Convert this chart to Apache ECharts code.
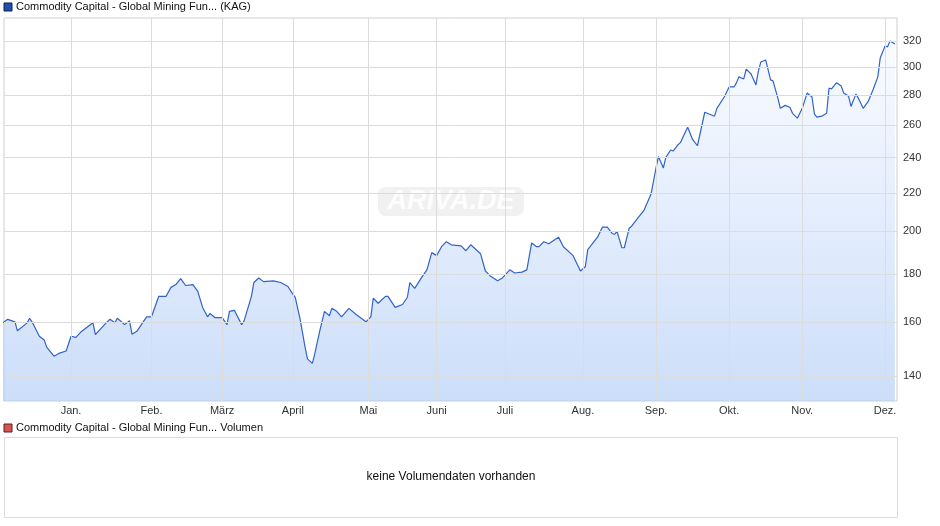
<!DOCTYPE html>
<html>
<head>
<meta charset="utf-8">
<script src="https://cdn.jsdelivr.net/npm/echarts@6/dist/echarts.min.js"></script>
<style>
  html, body { margin: 0; padding: 0; background: #fff; }
  #chart { width: 940px; height: 526px; }
</style>
</head>
<body>
<div id="chart"></div>
<script>
const dates = [
  '2024-12-04','2024-12-06','2024-12-09','2024-12-10','2024-12-14','2024-12-15','2024-12-16','2024-12-19',
  '2024-12-21','2024-12-22','2024-12-25','2024-12-27','2024-12-30','2025-01-01','2025-01-03','2025-01-05',
  '2025-01-10','2025-01-11','2025-01-15','2025-01-17','2025-01-19','2025-01-20','2025-01-23','2025-01-25',
  '2025-01-26','2025-01-28','2025-02-01','2025-02-03','2025-02-06','2025-02-09','2025-02-11','2025-02-13',
  '2025-02-15','2025-02-17','2025-02-20','2025-02-22','2025-02-24','2025-02-26','2025-02-27','2025-03-01',
  '2025-03-04','2025-03-06','2025-03-07','2025-03-09','2025-03-12','2025-03-13','2025-03-16','2025-03-17',
  '2025-03-19','2025-03-21','2025-03-25','2025-03-28','2025-03-31','2025-04-02','2025-04-03','2025-04-05',
  '2025-04-07','2025-04-08','2025-04-10','2025-04-11','2025-04-13','2025-04-15','2025-04-17','2025-04-18',
  '2025-04-20','2025-04-22','2025-04-25','2025-04-28','2025-05-02','2025-05-04','2025-05-05','2025-05-07',
  '2025-05-10','2025-05-11','2025-05-14','2025-05-17','2025-05-19','2025-05-20','2025-05-22','2025-05-25',
  '2025-05-27','2025-05-29','2025-05-31','2025-06-02','2025-06-04','2025-06-06','2025-06-10','2025-06-12',
  '2025-06-14','2025-06-18','2025-06-20','2025-06-22','2025-06-25','2025-06-27','2025-06-30','2025-07-02',
  '2025-07-05','2025-07-07','2025-07-09','2025-07-11','2025-07-12','2025-07-14','2025-07-16','2025-07-20',
  '2025-07-22','2025-07-26','2025-07-29','2025-07-31','2025-08-01','2025-08-05','2025-08-07','2025-08-09',
  '2025-08-11','2025-08-12','2025-08-13','2025-08-15','2025-08-16','2025-08-18','2025-08-19','2025-08-22',
  '2025-08-24','2025-08-27','2025-08-29','2025-08-30','2025-09-01','2025-09-02','2025-09-04','2025-09-05',
  '2025-09-07','2025-09-08','2025-09-10','2025-09-11','2025-09-13','2025-09-15','2025-09-18','2025-09-22',
  '2025-09-23','2025-09-26','2025-09-28','2025-09-30','2025-10-01','2025-10-02','2025-10-04','2025-10-05',
  '2025-10-07','2025-10-09','2025-10-10','2025-10-11','2025-10-13','2025-10-15','2025-10-16','2025-10-18',
  '2025-10-19','2025-10-21','2025-10-23','2025-10-24','2025-10-26','2025-10-28','2025-10-30','2025-11-01',
  '2025-11-02','2025-11-03','2025-11-05','2025-11-07','2025-11-08','2025-11-09','2025-11-11','2025-11-13',
  '2025-11-14','2025-11-16','2025-11-17','2025-11-19','2025-11-20','2025-11-22','2025-11-24','2025-11-26',
  '2025-11-28','2025-11-29','2025-12-01','2025-12-02','2025-12-03','2025-12-05'
];
const prices = [
  159.6,161,160,156.5,159.6,161.4,160,154.4,
  153,150.3,147,148,148.9,154.4,154,156,
  159.6,155,159.2,161,159.6,161.4,158.9,160.4,
  155.2,156.3,162,162,170.4,170.4,174.2,175.4,
  178,175,175.4,172.5,165.8,162,163.3,161.7,
  161.7,158.9,164.2,164.6,158.9,160.4,170.4,176.3,
  178.3,176.7,177,176.3,174.6,171.3,170,161,
  150.4,146,144.4,147.8,156.3,164.2,162.4,165.4,
  164.2,162,165.4,162.9,160,162,169.6,167.5,
  170.4,170.4,165.8,167,170,176.3,173.8,178.8,
  181.9,189.8,188.4,192.6,195,193.5,193,190.7,
  193.5,189.3,181.4,179.2,177.1,178.3,181.9,180.5,
  180.9,181.9,194.4,192.6,192.6,195,194,197.2,
  192.6,188.4,181.4,183.3,191.2,197.2,202.1,202.1,
  199,198.6,200,192.1,192.1,201.6,202.6,207.4,
  210.5,219.5,233.9,240.6,233.9,240,244.5,243.9,
  247.7,249,255.5,258.7,251,247.1,268.4,265.8,
  271,278.7,285.7,285.7,288.6,292.9,291.4,298.6,
  295,287.1,297.1,303.8,305.4,290.7,290,277.9,
  271,273,271.6,267.7,264.5,271,281.4,278.7,
  267.1,265.2,265.8,267.7,285,284.3,288.6,286.4,
  281.4,279.3,272.3,280.7,277.9,271,275.5,283.6,
  292.9,306.9,316.2,315.4,320,317.7
];
const yTicks = [140, 160, 180, 200, 220, 240, 260, 280, 300, 320];
const monthNames = ['Jan.','Feb.','März','April','Mai','Juni','Juli','Aug.','Sep.','Okt.','Nov.','Dez.'];
const monthTicks = ['2025-01-01','2025-02-03','2025-03-04','2025-04-02','2025-05-03','2025-05-31',
  '2025-06-28','2025-07-30','2025-08-29','2025-09-28','2025-10-28','2025-12-01'];

const gridLine = { color: '#dcdcdc', width: 1, type: 'solid' };
const lineData = [];
yTicks.forEach(v => lineData.push({ yAxis: v, name: String(v),
  label: { position: 'end', distance: 6, formatter: '{b}', color: '#333', fontSize: 11, fontFamily: 'Liberation Sans' } }));
monthTicks.forEach((d, i) => lineData.push({ xAxis: d, name: monthNames[i],
  label: { position: 'start', distance: 4, formatter: '{b}', color: '#333', fontSize: 11, fontFamily: 'Liberation Sans' } }));

const chart = echarts.init(document.getElementById('chart'));
chart.setOption({
  animation: false,
  grid: { left: 4, right: 43, top: 18, height: 383, show: true, borderColor: '#cfcfcf', borderWidth: 1 },
  xAxis: {
    type: 'time', min: '2024-12-04T12:00', max: '2025-12-05T21:00',
    axisLine: { show: false }, axisTick: { show: false }, axisLabel: { show: false }, splitLine: { show: false }
  },
  yAxis: {
    type: 'log', min: 131.6, max: 338.7,
    axisLine: { show: false }, axisTick: { show: false }, axisLabel: { show: false }, splitLine: { show: false }
  },
  series: [{
    type: 'line',
    data: dates.map((d, i) => [d, prices[i]]),
    showSymbol: false,
    lineStyle: { color: '#3063c8', width: 1.2 },
    areaStyle: {
      origin: 'start',
      color: new echarts.graphic.LinearGradient(0, 0, 0, 1, [
        { offset: 0, color: '#f6f9ff' },
        { offset: 1, color: '#b6cff6' }
      ])
    },
    markLine: { silent: true, symbol: 'none', lineStyle: gridLine, data: lineData }
  }],
  graphic: [
    { type: 'rect', shape: { x: 4, y: 3, width: 8, height: 8 }, style: { fill: '#1f4fb5', stroke: '#123' } },
    { type: 'text', left: 16, top: 1, style: { text: 'Commodity Capital - Global Mining Fun... (KAG)', fill: '#111', font: '11px "Liberation Sans"' } },
    { type: 'group', left: 378, top: 187, children: [
      { type: 'rect', shape: { x: 0, y: 0, width: 146, height: 29, r: 8 }, style: { fill: 'rgba(225,225,225,0.45)' } },
      { type: 'text', style: { x: 73, y: 15, text: 'ARIVA.DE', align: 'center', verticalAlign: 'middle',
        fill: 'rgba(255,255,255,0.85)', font: 'italic bold 27px "Liberation Sans"' } }
    ] },
    { type: 'rect', shape: { x: 4, y: 424, width: 8, height: 8 }, style: { fill: '#d9534f', stroke: '#522' } },
    { type: 'text', left: 16, top: 422, style: { text: 'Commodity Capital - Global Mining Fun... Volumen', fill: '#111', font: '11px "Liberation Sans"' } },
    { type: 'rect', shape: { x: 4.5, y: 437.5, width: 893, height: 80 }, style: { fill: '#fff', stroke: '#dcdcdc' } },
    { type: 'text', style: { x: 451, y: 477, text: 'keine Volumendaten vorhanden', align: 'center', verticalAlign: 'middle',
      fill: '#111', font: '12px "Liberation Sans"' } }
  ]
});
</script>
</body>
</html>
